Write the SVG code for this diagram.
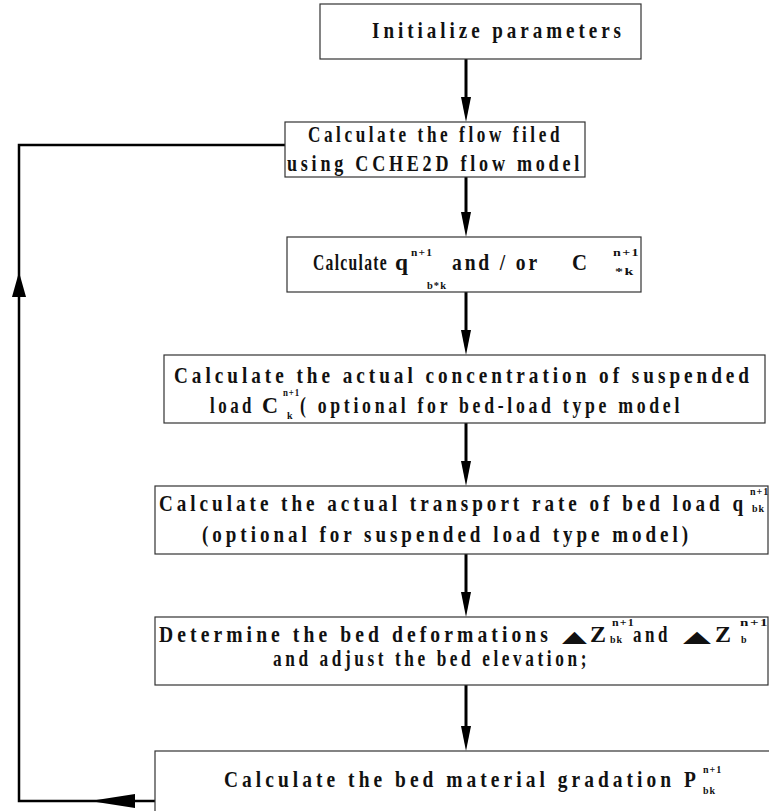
<svg xmlns="http://www.w3.org/2000/svg" width="769" height="811" viewBox="0 0 769 811">
<style>
.box{fill:#fff;stroke:#333;stroke-width:1.2}
.t{font-family:"Liberation Serif","Times New Roman",serif;font-weight:bold;font-size:24px;letter-spacing:5px;fill:#111}
.s{font-family:"Liberation Serif","Times New Roman",serif;font-weight:bold;font-size:10px;letter-spacing:1px;fill:#111}
.tri{font-family:"DejaVu Sans",sans-serif;font-size:16px;fill:#111}
.ln{stroke:#000;stroke-width:3;fill:none}
.lp{stroke:#000;stroke-width:2.5;fill:none}
.ah{fill:#000}
</style>
<defs>
<polygon id="down" points="0,0 -5,-25 5,-25"/>
</defs>
<rect width="769" height="811" fill="#fff"/>
<g id="connectors">
<line class="ln" x1="466" y1="59" x2="466" y2="110"/>
<use href="#down" class="ah" x="466" y="122"/>
<line class="ln" x1="466" y1="177" x2="466" y2="225"/>
<use href="#down" class="ah" x="466" y="237"/>
<line class="ln" x1="466" y1="292" x2="466" y2="343"/>
<use href="#down" class="ah" x="466" y="355"/>
<line class="ln" x1="466" y1="423" x2="466" y2="474"/>
<use href="#down" class="ah" x="466" y="486"/>
<line class="ln" x1="466" y1="554" x2="466" y2="605"/>
<use href="#down" class="ah" x="466" y="617"/>
<line class="ln" x1="466" y1="685" x2="466" y2="739"/>
<use href="#down" class="ah" x="466" y="751"/>
<polyline class="lp" points="155,801 19,801 19,145 285,145"/>
<polygon class="ah" points="90,801 135,794 135,808"/>
<polygon class="ah" points="19,272 12,297 26,297"/>
</g>
<g id="n1">
<rect class="box" x="320" y="4" width="321" height="55"/>
<text class="t" x="372" y="38" font-size="25" textLength="253" lengthAdjust="spacingAndGlyphs">Initialize parameters</text>
</g>
<g id="n2">
<rect class="box" x="285" y="122" width="300" height="55"/>
<text class="t" x="308" y="142" textLength="255" lengthAdjust="spacingAndGlyphs">Calculate the flow filed</text>
<text class="t" x="287" y="171" textLength="296" lengthAdjust="spacingAndGlyphs">using CCHE2D flow model</text>
</g>
<g id="n3">
<rect class="box" x="287" y="237" width="354" height="55"/>
<text class="t" x="313" y="270" font-size="22" style="letter-spacing:2px" textLength="75" lengthAdjust="spacingAndGlyphs">Calculate</text>
<text class="t" x="395" y="270" font-size="22" style="letter-spacing:0" textLength="13" lengthAdjust="spacingAndGlyphs">q</text>
<text class="s" x="411" y="256" textLength="22" lengthAdjust="spacingAndGlyphs">n+1</text>
<text class="s" x="427" y="289" textLength="20" lengthAdjust="spacingAndGlyphs">b*k</text>
<text class="t" x="452" y="270" font-size="22" style="letter-spacing:3.5px" textLength="88" lengthAdjust="spacingAndGlyphs">and / or</text>
<text class="t" x="572" y="270" font-size="22" style="letter-spacing:0" textLength="15" lengthAdjust="spacingAndGlyphs">C</text>
<text class="s" x="613" y="256" textLength="27" lengthAdjust="spacingAndGlyphs">n+1</text>
<text class="s" x="615" y="275" textLength="20" lengthAdjust="spacingAndGlyphs">*k</text>
</g>
<g id="n4">
<rect class="box" x="164" y="355" width="601" height="68"/>
<text class="t" x="174" y="383" textLength="579" lengthAdjust="spacingAndGlyphs">Calculate the actual concentration of suspended</text>
<text class="t" x="210" y="413" textLength="45" lengthAdjust="spacingAndGlyphs">load</text>
<text class="t" x="262" y="413" style="letter-spacing:0" textLength="16" lengthAdjust="spacingAndGlyphs">C</text>
<text class="s" x="283" y="396" font-size="9" textLength="17" lengthAdjust="spacingAndGlyphs">n+1</text>
<text class="s" x="287" y="419">k</text>
<text class="t" x="300" y="413" textLength="383" lengthAdjust="spacingAndGlyphs">( optional for bed-load type model</text>
</g>
<g id="n5">
<rect class="box" x="155" y="486" width="613" height="68"/>
<text class="t" x="159" y="511" textLength="588" lengthAdjust="spacingAndGlyphs">Calculate the actual transport rate of bed load q</text>
<text class="s" x="750" y="495">n+1</text>
<text class="s" x="752" y="512">bk</text>
<text class="t" x="202" y="542" textLength="490" lengthAdjust="spacingAndGlyphs">(optional for suspended load type model)</text>
</g>
<g id="n6">
<rect class="box" x="155" y="617" width="613" height="68"/>
<text class="t" x="159" y="642" textLength="393" lengthAdjust="spacingAndGlyphs">Determine the bed deformations</text>
<text class="tri" x="562" y="642" textLength="25" lengthAdjust="spacingAndGlyphs">▲</text>
<text class="t" x="590" y="642" style="letter-spacing:0" textLength="16" lengthAdjust="spacingAndGlyphs">Z</text>
<text class="s" x="612" y="626" textLength="23" lengthAdjust="spacingAndGlyphs">n+1</text>
<text class="s" x="610" y="643">bk</text>
<text class="t" x="633" y="642" textLength="38" lengthAdjust="spacingAndGlyphs">and</text>
<text class="tri" x="683" y="642" textLength="28" lengthAdjust="spacingAndGlyphs">▲</text>
<text class="t" x="715" y="642" style="letter-spacing:0" textLength="16" lengthAdjust="spacingAndGlyphs">Z</text>
<text class="s" x="740" y="626" textLength="29" lengthAdjust="spacingAndGlyphs">n+1</text>
<text class="s" x="741" y="643">b</text>
<text class="t" x="273" y="666" textLength="317" lengthAdjust="spacingAndGlyphs">and adjust the bed elevation;</text>
</g>
<g id="n7">
<rect class="box" x="155" y="751" width="630" height="100"/>
<text class="t" x="224" y="787" textLength="476" lengthAdjust="spacingAndGlyphs">Calculate the bed material gradation P</text>
<text class="s" x="703" y="773">n+1</text>
<text class="s" x="703" y="794">bk</text>
</g>
</svg>
